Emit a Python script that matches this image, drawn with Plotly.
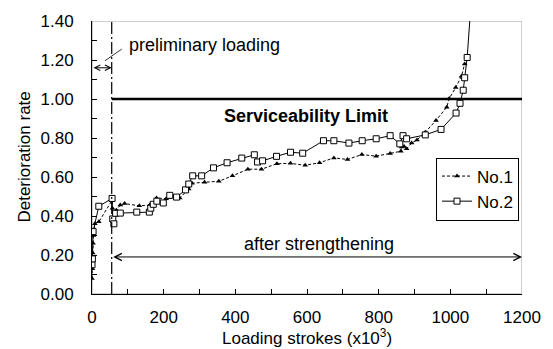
import plotly.graph_objects as go

# --- data ---
no2_x = [0, 1, 3, 19, 56, 58, 61, 66, 79, 125, 160, 164, 171, 181, 199, 217, 236, 261, 270, 281, 306,
         339, 377, 418, 453, 462, 476, 515, 554, 588, 646, 675, 717, 754, 793, 832, 859, 868, 878,
         930, 974, 1016, 1027, 1036, 1040, 1047, 1060]
no2_y = [0.15, 0.18, 0.32, 0.45, 0.49, 0.385, 0.36, 0.414, 0.415, 0.42, 0.42, 0.44, 0.46, 0.476, 0.467,
         0.506, 0.497, 0.534, 0.564, 0.606, 0.606, 0.647, 0.673, 0.697, 0.714, 0.677, 0.683, 0.706,
         0.727, 0.722, 0.786, 0.786, 0.774, 0.786, 0.796, 0.812, 0.77, 0.812, 0.796, 0.816, 0.844,
         0.928, 0.978, 1.045, 1.109, 1.213, 1.55]

no1_x = [0, 1, 2, 2, 3, 4, 8, 19, 56, 57, 68, 79, 91, 132, 161, 180, 207, 245, 270, 279, 314, 354,
         392, 435, 473, 516, 554, 595, 635, 675, 713, 753, 793, 832, 862, 864, 871, 878, 892, 907,
         930, 960, 990, 997, 1015, 1031, 1040]
no1_y = [0.08, 0.13, 0.17, 0.21, 0.26, 0.30, 0.36, 0.37, 0.48, 0.44, 0.43, 0.456, 0.464, 0.452, 0.456,
         0.492, 0.489, 0.492, 0.539, 0.568, 0.573, 0.578, 0.606, 0.64, 0.64, 0.668, 0.67, 0.66,
         0.673, 0.698, 0.69, 0.715, 0.707, 0.72, 0.732, 0.754, 0.757, 0.745, 0.774, 0.79, 0.83,
         0.89, 0.958, 1.003, 1.059, 1.117, 1.18]

series_names = ["No.1", "No.2"]
x_ticks = [0, 200, 400, 600, 800, 1000, 1200]
y_ticks = [0.0, 0.2, 0.4, 0.6, 0.8, 1.0, 1.2, 1.4]
strengthen_x = 55
limit_y = 1.0
prelim_arrow_y = 1.16
after_arrow_y = 0.19

FONT = "Liberation Sans, Arial, sans-serif"

fig = go.Figure()
fig.add_trace(go.Scatter(
    x=no1_x, y=no1_y, name=series_names[0], mode="lines+markers",
    line=dict(color="black", width=1, dash="3px,2px"),
    marker=dict(symbol="triangle-up", size=5, color="black"),
))
fig.add_trace(go.Scatter(
    x=no2_x, y=no2_y, name=series_names[1], mode="lines+markers",
    line=dict(color="black", width=1),
    marker=dict(symbol="square", size=6, color="white", line=dict(color="black", width=1)),
))

shapes = [
    dict(type="rect", xref="x", yref="y", x0=0, x1=1200, y0=0, y1=1.4,
         line=dict(color="#a0a0a0", width=1), layer="below"),
    dict(type="line", xref="x", yref="y", x0=strengthen_x, x1=strengthen_x, y0=0, y1=1.4,
         line=dict(color="black", width=1.2, dash="12px,3px,2px,3px")),
    dict(type="line", xref="x", yref="y", x0=strengthen_x, x1=1200, y0=limit_y, y1=limit_y,
         line=dict(color="black", width=2.5)),
    dict(type="line", xref="x", yref="y", x0=36, x1=83, y0=1.196, y1=1.256,
         line=dict(color="black", width=0.8)),
]

annotations = [
    dict(x=strengthen_x, y=prelim_arrow_y, ax=0, ay=prelim_arrow_y, xref="x", yref="y",
         axref="x", ayref="y", showarrow=True, arrowhead=5, arrowside="end+start",
         arrowsize=1.1, arrowwidth=1, arrowcolor="black", text=""),
    dict(x=1200, y=after_arrow_y, ax=strengthen_x, ay=after_arrow_y, xref="x", yref="y",
         axref="x", ayref="y", showarrow=True, arrowhead=5, arrowside="end+start",
         arrowsize=1.4, arrowwidth=1, arrowcolor="black", text=""),
    dict(x=99, y=1.276, xref="x", yref="y", text="preliminary loading", showarrow=False,
         xanchor="left", yanchor="middle", font=dict(size=18, color="black", family=FONT)),
    dict(x=634, y=0.256, xref="x", yref="y", text="after strengthening", showarrow=False,
         xanchor="center", yanchor="middle", font=dict(size=18, color="black", family=FONT)),
    dict(x=597, y=0.912, xref="x", yref="y", text="<b>Serviceability Limit</b>", showarrow=False,
         xanchor="center", yanchor="middle", font=dict(size=18, color="black", family=FONT)),
    dict(x=0.5, y=-0.158, xref="paper", yref="paper", text="Loading strokes (x10<sup>3</sup>)",
         showarrow=False, xanchor="center", yanchor="middle",
         font=dict(size=17, color="black", family=FONT)),
    dict(x=-0.158, y=0.5, xref="paper", yref="paper", text="Deterioration rate", textangle=-90,
         showarrow=False, xanchor="center", yanchor="middle",
         font=dict(size=17, color="black", family=FONT)),
]

fig.update_layout(
    width=553, height=349,
    margin=dict(l=92, r=25, t=15, b=55),
    paper_bgcolor="white", plot_bgcolor="white",
    font=dict(family=FONT, size=17, color="black"),
    shapes=shapes, annotations=annotations,
    showlegend=True,
    legend=dict(x=0.80, y=0.50, xanchor="left", yanchor="top",
                bordercolor="black", borderwidth=1, bgcolor="white",
                font=dict(size=17, family=FONT, color="black"),
                tracegroupgap=0, itemwidth=30),
    xaxis=dict(range=[0, 1200], tickvals=x_ticks, ticks="inside", ticklen=5, tickcolor="black",
               showline=True, linecolor="black", linewidth=1, showgrid=False, zeroline=False,
               minor=dict(dtick=100, ticks="inside", ticklen=5, tickcolor="black", showgrid=False),
               tickfont=dict(size=17), ticklabelstandoff=8),
    yaxis=dict(range=[0, 1.4], tickvals=y_ticks, tickformat=".2f", ticks="inside", ticklen=5,
               tickcolor="black", showline=True, linecolor="black", linewidth=1, showgrid=False,
               zeroline=False,
               minor=dict(dtick=0.1, ticks="inside", ticklen=5, tickcolor="black", showgrid=False),
               tickfont=dict(size=17), ticklabelstandoff=14),
)

fig.write_html("out.html")
